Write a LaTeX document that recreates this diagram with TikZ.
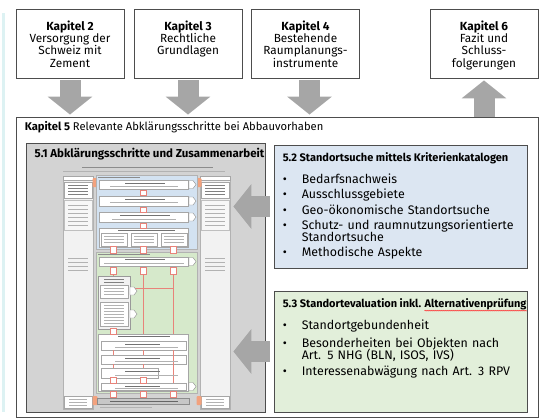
\documentclass[tikz,border=0pt]{standalone}
\usepackage{fontspec}
\setmainfont{Fira Sans}
\usetikzlibrary{arrows.meta,positioning,decorations.pathmorphing}

\definecolor{boxline}{HTML}{4D4D4D}
\definecolor{arrowgray}{HTML}{A6A6A6}
\definecolor{panelgray}{HTML}{D3D3D3}
\definecolor{searchblue}{HTML}{DCE6F2}
\definecolor{evalgreen}{HTML}{E2EFDA}
\definecolor{miniblue}{HTML}{D3E2F1}
\definecolor{minigreen}{HTML}{D6E9CB}
\definecolor{minired}{HTML}{E8837A}
\definecolor{miniorange}{HTML}{F2A27E}
\definecolor{stripcyan}{HTML}{DDF2F3}

\newcommand{\bitem}[1]{\par\hangindent=19pt\hangafter=1\noindent\makebox[19pt][l]{\textbullet}#1}

\tikzset{
  chapbox/.style={draw=boxline, line width=0.9pt, minimum width=108pt, minimum height=69pt, inner sep=0pt},
  chaptext/.style={align=center, inner sep=0pt, font=\fontsize{11.8}{12.3}\selectfont},
  bigarrow/.style={draw=arrowgray, line width=21pt, -{Triangle[width=44pt,length=18pt]}},
  panel/.style={draw=boxline, line width=0.8pt, inner sep=0pt},
  paneltitle/.style={inner sep=0pt, font=\fontsize{11}{12}\selectfont\bfseries},
  listtext/.style={text width=240pt, inner sep=0pt, align=left, font=\fontsize{12.4}{12}\selectfont},
  mini/.style={draw=black!35, fill=white, line width=0.4pt},
  minisq/.style={draw=minired, fill=white, line width=0.4pt},
  redln/.style={draw=minired, line width=0.5pt},
  txt/.style={draw=black!30, line width=0.6pt},
  marker/.style={draw=black!45, fill=white, line width=0.4pt},
}

\begin{document}
\begin{tikzpicture}[x=1pt,y=-1pt]
    \useasboundingbox (0,0) rectangle (539,418);
    \fill[stripcyan] (2,13) rectangle (5,412);

    % Chapter boxes on top
    \node[chapbox] (k2) at (70,43.5) {};
    \node[chaptext, below=12pt of k2.north] (k2t) {\textbf{Kapitel 2}\\Versorgung der\\Schweiz mit\\Zement};
    \node[chapbox] (k3) at (188,43.5) {};
    \node[chaptext, below=12pt of k3.north] (k3t) {\textbf{Kapitel 3}\\Rechtliche\\Grundlagen};
    \node[chapbox] (k4) at (305.5,43.5) {};
    \node[chaptext, below=12pt of k4.north] (k4t) {\textbf{Kapitel 4}\\Bestehende\\Raumplanungs-\\instrumente};
    \node[chapbox] (k6) at (484,43.5) {};
    \node[chaptext, below=12pt of k6.north] (k6t) {\textbf{Kapitel 6}\\Fazit und\\Schluss-\\folgerungen};

    % Chapter 5 frame
    \node[chapbox, minimum width=522pt, minimum height=300pt] (k5) at (277,267) {};
    \node[anchor=base west, inner sep=0pt, font=\fontsize{11.2}{12}\selectfont]
        (k5t) at ([shift={(9pt,-14pt)}]k5.north west) {\textbf{Kapitel 5} Relevante Abklärungsschritte bei Abbauvorhaben};

    % Arrows between chapters
    \draw[bigarrow] ([yshift=-2pt]k2.south) -- ([yshift=2pt]k2.south |- k5.north);
    \draw[bigarrow] ([yshift=-2pt]k3.south) -- ([yshift=2pt]k3.south |- k5.north);
    \draw[bigarrow] ([shift={(4pt,-2pt)}]k4.south) -- ([shift={(4pt,2pt)}]k4.south |- k5.north);
    \draw[bigarrow] (k6.south |- k5.north) -- ([yshift=-2pt]k6.south);

    % 5.1 panel with the process overview
    \node[panel, fill=panelgray, minimum width=239pt, minimum height=269pt] (s51) at (145.5,277.5) {};
    \node[paneltitle, anchor=base, font=\fontsize{11.5}{12}\selectfont\bfseries]
        (s51t) at ([shift={(4pt,-15pt)}]s51.north) {5.1 Abklärungsschritte und Zusammenarbeit};

    % miniature: heading lines
    \draw[txt, draw=black!45] (82,167) -- (213,167);
    \draw[txt, line width=0.4pt] (63,171) -- (225,171);

    % miniature: side columns
    \foreach \cl/\cr in {63/93, 200/230} {
        \filldraw[draw=black!30, fill=black!5, line width=0.4pt] (\cl,176) rectangle (\cr,409);
        \draw[mini] (\cl,176) rectangle (\cr,180);
        \draw[mini] (\cl+1,182) rectangle (\cr-1,198);
        \filldraw[draw=black!25, fill=black!3, line width=0.4pt] (\cl+1,200) rectangle (\cr-1,230);
        \draw[mini] (\cl+1,396) rectangle (\cr-1,408);
        \foreach \ty in {185,188,191,194} \draw[txt, draw=black!50] (\cl+5,\ty) -- (\cr-5,\ty);
        \foreach \ty in {205,209,213,217,221,225} \draw[txt] (\cl+5,\ty) -- (\cr-5,\ty);
        \foreach \ty in {258,262,266,270} \draw[txt] (\cl+5,\ty) -- (\cr-5,\ty);
        \foreach \ty in {399,402,405} \draw[txt] (\cl+6,\ty) -- (\cr-6,\ty);
    }

    % miniature: connectors to side columns
    \foreach \ox in {93,197} {
        \fill[miniorange, rounded corners=1pt] (\ox-0.5,178) rectangle (\ox+4.5,187);
        \fill[miniorange, rounded corners=1pt] (\ox-0.5,396) rectangle (\ox+4.5,405);
    }

    % miniature: site search block (blue)
    \filldraw[draw=black!30, fill=miniblue, line width=0.4pt] (96,175) rectangle (197,249);
    \draw[txt, draw=black!45] (98,177.5) -- (140,177.5);
    \draw[mini] (99,180) rectangle (188,189);
    \draw[mini] (99,196) rectangle (188,206);
    \draw[mini] (99,212) rectangle (188,222);
    \draw[mini] (99,228) rectangle (188,247);
    \draw[txt, draw=black!55] (125,183) -- (165,183);
    \draw[txt] (110,186) -- (178,186);
    \draw[txt, draw=black!55] (125,199) -- (165,199);
    \draw[txt] (110,202) -- (178,202);
    \draw[txt, draw=black!55] (120,215.5) -- (170,215.5);
    \draw[txt] (112,219) -- (176,219);
    \draw[txt, draw=black!55] (118,230.5) -- (175,230.5);
    \foreach \bx in {101,131,161} {
        \draw[mini] (\bx,233) rectangle (\bx+26,246);
        \foreach \ty in {236,239,242} \draw[txt] (\bx+3,\ty) -- (\bx+23,\ty);
    }
    \foreach \sy in {190,207,223} \draw[minisq] (140,\sy) rectangle (146,\sy+5);
    \foreach \my in {184.5,201,217} \draw[marker] (189,\my-4) -- (193,\my-4) -- (196,\my) -- (193,\my+4) -- (189,\my+4) -- cycle;

    % miniature: evaluation block (green)
    \filldraw[draw=black!30, fill=minigreen, line width=0.4pt] (96,252) rectangle (197,393);
    \draw[txt, draw=black!45] (98,254.5) -- (150,254.5);
    \draw[redln] (143,272) -- (143,392);
    \draw[redln] (173,272) -- (173,392);
    \draw[redln] (130,288) -- (173,288);
    \draw[redln] (113,272) -- (113,392);
    \draw[mini] (99,257) rectangle (188,266);
    \draw[txt, draw=black!55] (125,259.5) -- (165,259.5);
    \draw[txt] (104,263) -- (184,263);
    \filldraw[draw=black!40, fill=black!5, line width=0.4pt] (98,276) rectangle (130,329);
    \foreach \ty in {279,282} \draw[txt, draw=black!50] (104,\ty) -- (124,\ty);
    \draw[mini] (100,285) rectangle (128,298);
    \draw[mini] (100,302) rectangle (128,326);
    \foreach \ty in {288,291,294} \draw[txt] (104,\ty) -- (124,\ty);
    \foreach \ty in {305,308,311,314,317,320,323} \draw[txt] (104,\ty) -- (124,\ty);
    \foreach \my in {291,314} \draw[marker] (130,\my-4) -- (134,\my-4) -- (137,\my) -- (134,\my+4) -- (130,\my+4) -- cycle;
    \draw[mini] (98,334) rectangle (188,391);
    \draw[mini] (101,341) rectangle (186,350);
    \draw[mini] (101,355) rectangle (186,364);
    \draw[mini] (101,368) rectangle (158,378);
    \draw[mini] (101,383) rectangle (186,390);
    \draw[redln] (113,350) -- (113,355) (143,350) -- (143,355) (173,350) -- (173,383);
    \draw[redln] (113,364) -- (113,368) (143,364) -- (143,368);
    \draw[txt, draw=black!55] (118,336.5) -- (170,336.5);
    \foreach \ty in {344.5,358.5,371.5,386} \draw[txt, draw=black!55] (125,\ty) -- (160,\ty);
    \foreach \ty in {347.5,361.5,375,388.5} \draw[txt] (115,\ty) -- (178,\ty);
    \foreach \cx in {113,143,173} {
        \draw[minisq] (\cx-3,246) rectangle (\cx+3,253);
        \draw[minisq] (\cx-3,267) rectangle (\cx+3,274);
        \draw[minisq] (\cx-3,391) rectangle (\cx+3,397);
    }
    \draw[minisq] (110,328) rectangle (116,334);
    \draw[minisq] (110,377) rectangle (116,383);
    \draw[minisq] (140,377) rectangle (146,383);
    \foreach \my in {261.5,386.5} \draw[marker] (189,\my-4) -- (193,\my-4) -- (196,\my) -- (193,\my+4) -- (189,\my+4) -- cycle;

    % miniature: closing bar and note
    \filldraw[draw=black!45, fill=black!22, line width=0.4pt] (97,398) rectangle (189,404);
    \draw[txt, draw=black!60] (110,401) -- (178,401);
    \draw[txt, line width=0.4pt] (100,407) -- (152,407);

    % 5.2 criteria catalogues
    \node[panel, fill=searchblue, minimum width=253pt, minimum height=123pt] (s52) at (400.5,206.5) {};
    \node[paneltitle, anchor=base west] (s52t) at ([shift={(9pt,-17pt)}]s52.north west) {5.2 Standortsuche mittels Kriterienkatalogen};
    \node[listtext, anchor=north west] (s52l) at ([yshift=-6.5pt]s52t.base west) {\setlength{\parskip}{3pt}%
        \bitem{Bedarfsnachweis}
        \bitem{Ausschlussgebiete}
        \bitem{Geo-ökonomische Standortsuche}
        \bitem{Schutz- und raumnutzungsorientierte\newline Standortsuche}
        \bitem{Methodische Aspekte}\par};

    % 5.3 site evaluation
    \node[panel, fill=evalgreen, minimum width=253pt, minimum height=121pt] (s53) at (400.5,351.5) {};
    \node[paneltitle, anchor=base west] (s53t) at ([shift={(9pt,-17pt)}]s53.north west) {5.3 Standortevaluation inkl.};
    \node[paneltitle, anchor=base west] (s53w) at ([xshift=3pt]s53t.base east) {Alternativenprüfung};
    \draw[red!80, line width=0.5pt, decorate, decoration={snake, amplitude=0.5pt, segment length=2pt}]
        ([yshift=-3pt]s53w.base west) -- ([yshift=-3pt]s53w.base east);
    \node[listtext, anchor=north west] (s53l) at ([yshift=-6pt]s53t.base west) {\setlength{\parskip}{4pt}%
        \bitem{Standortgebundenheit}
        \bitem{Besonderheiten bei Objekten nach\vadjust{\kern-2pt}\newline Art. 5 NHG (BLN, ISOS, IVS)}
        \bitem{Interessenabwägung nach Art. 3 RPV}\par};

    % Arrows into the overview
    \draw[bigarrow] ([xshift=-4pt]s52.west) -- ([xshift=-32pt]s51.east |- s52.west);
    \draw[bigarrow] ([xshift=-4pt]s53.west) -- ([xshift=-32pt]s51.east |- s53.west);
\end{tikzpicture}
\end{document}
